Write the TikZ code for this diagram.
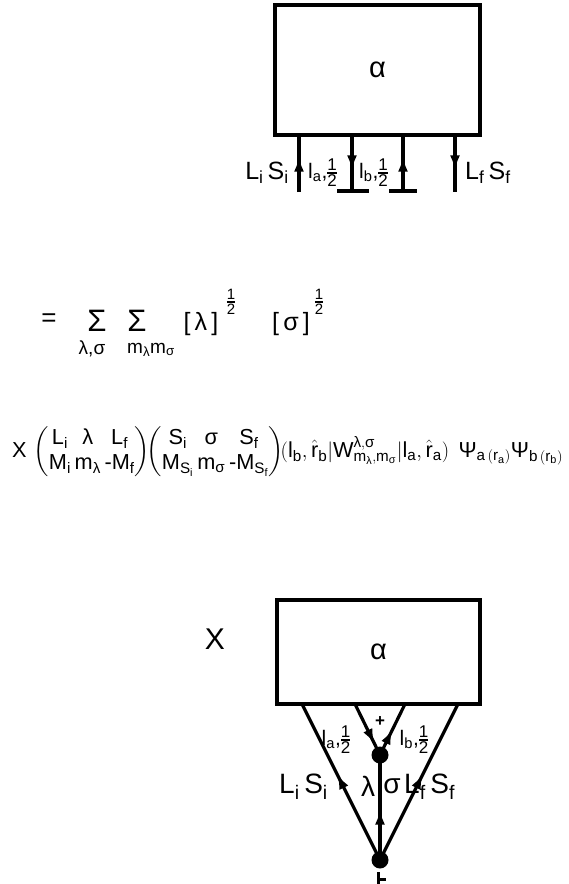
\documentclass[tikz,border=0pt]{standalone}
\usepackage{amsmath}
\usepackage{graphicx}
\usepackage{fontspec}
\setmainfont{Liberation Sans}
\usetikzlibrary{arrows.meta,decorations.markings}
\newcommand\gk[1]{\text{#1}}
% stacked one-half built from text digits
\newcommand\halfstack[1]{\ensuremath{\vcenter{\offinterlineskip\fontsize{#1}{#1}\selectfont
  \halign{\hfil##\hfil\cr 1\cr\noalign{\kern1.4pt\hrule height1.2pt\kern1.4pt}2\cr}}}}
\newcommand\hf{\halfstack{17}}
\tikzset{
  ln/.style={line width=3.2pt},
  midarrow/.style={postaction={decorate},decoration={markings,
      mark=at position #1 with {\arrow{Latex[length=15pt,width=10pt]}}}},
  toplbl/.style={inner sep=0pt, font=\fontsize{25}{25}\selectfont},
  lbl/.style={inner sep=0pt, font=\fontsize{28}{28}\selectfont},
  smlbl/.style={inner sep=0pt, font=\fontsize{21}{21}\selectfont},
  eq/.style={inner sep=0pt, font=\fontsize{25}{25}\selectfont},
  dot/.style={circle, fill, inner sep=0pt, minimum size=17pt},
  bigbox/.style={draw, line width=3.2pt, inner sep=0pt, font=\fontsize{29}{29}\selectfont}
}
\begin{document}
\begin{tikzpicture}[x=1pt,y=-1pt]
\useasboundingbox (0,0) rectangle (568,884);

% ---------- top diagram ----------
\node[bigbox, minimum width=205pt, minimum height=130pt] (A) at (377.5,70) {α};
\coordinate (a1) at (299,135); \coordinate (b1) at (299,192);
\coordinate (a2) at (352,135); \coordinate (b2) at (352,192);
\coordinate (a3) at (403,135); \coordinate (b3) at (403,192);
\coordinate (a4) at (455,135); \coordinate (b4) at (455,192);
\coordinate (c2l) at (337,191); \coordinate (c2r) at (369,191);
\coordinate (c3l) at (389,191); \coordinate (c3r) at (417,191);
\draw[ln, midarrow=0.62] (b1) -- (a1);
\draw[ln, midarrow=0.62] (a2) -- (b2);
\draw[ln, midarrow=0.62] (b3) -- (a3);
\draw[ln, midarrow=0.62] (a4) -- (b4);
\draw[ln] (c2l) -- (c2r);
\draw[ln] (c3l) -- (c3r);
\node[toplbl, anchor=east] (tLS) at (289,173) {L\textsubscript{i}\,S\textsubscript{i}};
\node[smlbl, anchor=west] (tla) at (308,173) {l\textsubscript{a},\hf};
\node[smlbl, anchor=west] (tlb) at (359,173) {l\textsubscript{b},\hf};
\node[toplbl, anchor=west] (tLf) at (465,173) {L\textsubscript{f}\,S\textsubscript{f}};

% ---------- formula line 1 ----------
\node[inner sep=0pt, font=\fontsize{26}{26}\selectfont] (eqs) at (49,320) {=};
\node[inner sep=0pt, font=\fontsize{31}{31}\selectfont] (s1) at (97,321) {Σ};
\node[inner sep=0pt, font=\fontsize{19}{19}\selectfont] (s1b) at (92,349) {λ,σ};
\node[inner sep=0pt, font=\fontsize{31}{31}\selectfont] (s2) at (137,321) {Σ};
\node[inner sep=0pt, font=\fontsize{19}{19}\selectfont] (s2b) at (151,350) {m\textsubscript{λ}m\textsubscript{σ}};
\node[eq] (bl1) at (201,324) {[\,λ\,]};
\node[inner sep=0pt] (h1) at (231,302) {\halfstack{15}};
\node[eq] (bl2) at (291,324) {[\,σ\,]};
\node[inner sep=0pt] (h2) at (319,302) {\halfstack{15}};

% ---------- formula line 2 ----------
\node[inner sep=0pt, anchor=west, font=\fontsize{18}{21}\selectfont] (f2) at (12,452) {\resizebox{551pt}{!}{$\setlength\arraycolsep{1.5pt}\nulldelimiterspace=0pt
 \mathrm{X}\,\left(\begin{matrix}\mathrm{L_i} & \gk{λ} & \mathrm{L_f}\\ \mathrm{M_i} & \mathrm{m}_{\gk{λ}} & \text{-}\mathrm{M_f}\end{matrix}\right)\!\!
 \left(\begin{matrix}\mathrm{S_i} & \gk{σ} & \mathrm{S_f}\\ \mathrm{M_{S_i}} & \mathrm{m}_{\gk{σ}} & \text{-}\mathrm{M_{S_f}}\end{matrix}\right)\!\!
 (\mathrm{l_b},\hat{\mathrm{r}}_{\mathrm{b}}|\mathrm{W}^{\gk{λ},\gk{σ}}_{\mathrm{m}_{\gk{λ}},\mathrm{m}_{\gk{σ}}}|\mathrm{l_a},\hat{\mathrm{r}}_{\mathrm{a}})\;\,
 \gk{Ψ}_{\mathrm{a}\,(\mathrm{r_a})}\gk{Ψ}_{\mathrm{b}\,(\mathrm{r_b})}$}};

% ---------- bottom diagram ----------
\node[inner sep=0pt, font=\fontsize{30}{30}\selectfont] (X) at (215,639) {X};
\node[bigbox, minimum width=203pt, minimum height=104pt] (B) at (378.5,652) {α};
\node[dot] (m) at (380,755) {};
\node[dot] (v) at (380,860) {};
\coordinate (bl) at (302,704);
\coordinate (br) at (458,704);
\coordinate (il) at (355,704);
\coordinate (ir) at (405,704);
\draw[ln, midarrow=0.55] (v.center) -- (bl);
\draw[ln, midarrow=0.55] (v.center) -- (br);
\draw[ln, midarrow=0.48] (v.center) -- (m.center);
\draw[ln, midarrow=0.78] (il) -- (m.center);
\draw[ln, midarrow=0.5] (m.center) -- (ir);
\node[inner sep=0pt, font=\bfseries\fontsize{17}{17}\selectfont] (p1) at (380,722) {+};
\coordinate (q1) at (378.5,872); \coordinate (q2) at (378.5,886);
\coordinate (q3) at (378.5,879); \coordinate (q4) at (386,879);
\draw[line width=3pt] (q1) -- (q2);
\draw[line width=3pt] (q3) -- (q4);
\node[smlbl] (bla) at (336,740) {l\textsubscript{a},\hf};
\node[smlbl] (blb) at (414,740) {l\textsubscript{b},\hf};
\node[lbl, anchor=east] (bLS) at (328,787) {L\textsubscript{i}\,S\textsubscript{i}};
\node[lbl] (blam) at (368,786) {λ};
\node[lbl] (bsig) at (392,786) {σ};
\node[lbl, anchor=west] (bLf) at (404,787) {L\textsubscript{f}\,S\textsubscript{f}};
\end{tikzpicture}
\end{document}
